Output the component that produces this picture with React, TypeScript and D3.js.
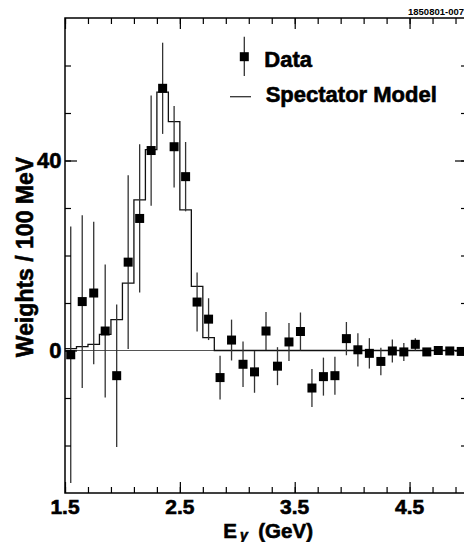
import { useEffect, useRef } from "react";
import * as d3 from "d3";

// bin centres (GeV), 0.1 GeV bins
const binCenters = [
  1.55, 1.65, 1.75, 1.85, 1.95, 2.05, 2.15, 2.25, 2.35, 2.45, 2.55, 2.65,
  2.75, 2.85, 2.95, 3.05, 3.15, 3.25, 3.35, 3.45, 3.55, 3.65, 3.75, 3.85,
  3.95, 4.05, 4.15, 4.25, 4.35, 4.45, 4.55, 4.65, 4.75, 4.85, 4.95,
];
const dataValues = [
  -0.9, 10.3, 12.1, 4.1, -5.3, 18.6, 27.8, 42.1, 55.2, 42.9, 36.6, 10.2,
  6.6, -5.7, 2.2, -2.9, -4.5, 4.1, -3.3, 1.8, 4.0, -7.9, -5.5, -5.3,
  2.5, 0.15, -0.6, -2.3, -0.1, -0.3, 1.3, -0.3, 0.0, -0.1, -0.2,
];
const dataErrors = [
  27, 18.2, 15, 14, 15, 18.3, 15.6, 11.6, 9.6, 8.6, 7.3, 6.2,
  4.4, 4.6, 4.3, 4.8, 4.4, 4.0, 4.0, 4.0, 4.0, 4.0, 4.0, 4.0,
  3.5, 3.5, 3.2, 2.9, 2.4, 1.9, 1.3, 0.8, 0.5, 0.4, 0.4,
];
const modelValues = [
  0.4, 0.8, 1.3, 3.4, 6.5, 14.2, 31.7, 42.3, 54.4, 48.2, 29.6, 13.5,
  2.7, 0, 0, 0, 0, 0, 0, 0, 0, 0, 0, 0,
  0, 0, 0, 0, 0, 0, 0, 0, 0, 0, 0,
];
const xTickLabels = [1.5, 2.5, 3.5, 4.5];
const xMinorTicks = d3.range(15, 51, 2).map((d) => d / 10);
const yTickLabels = [0, 40];
const yMinorTicks = [-20, -10, 0, 10, 20, 30, 40, 50, 60];

const FONT = "'Liberation Sans', Arial, Helvetica, sans-serif";
const binWidth = 0.1;

export default function App() {
  const ref = useRef<SVGSVGElement>(null);

  const width = 464;
  const height = 542;
  const left = 65, right = 467, top = 18, bottom = 493;

  const x = d3.scaleLinear().domain([1.5, 5.0]).range([left, right]);
  const y = d3.scaleLinear().domain([-30, 70]).range([bottom, top]);

  useEffect(() => {
    const svg = d3.select(ref.current);
    svg.selectAll("g.ax").remove();

    const addAxis = (axis: any, tx: number, ty: number) => {
      const g = svg.append("g").attr("class", "ax")
        .attr("transform", `translate(${tx},${ty})`)
        .call(axis);
      g.select(".domain").remove();
      g.selectAll("line").attr("stroke", "#000").attr("stroke-width", 1.2);
      g.selectAll("text").remove();
    };

    // bottom / top
    addAxis(d3.axisBottom(x).tickValues(xMinorTicks).tickSize(-6).tickFormat(() => ""), 0, bottom);
    addAxis(d3.axisBottom(x).tickValues(xTickLabels).tickSize(-11).tickFormat(() => ""), 0, bottom);
    addAxis(d3.axisTop(x).tickValues(xMinorTicks).tickSize(-6).tickFormat(() => ""), 0, top);
    addAxis(d3.axisTop(x).tickValues(xTickLabels).tickSize(-11).tickFormat(() => ""), 0, top);
    // left / right
    addAxis(d3.axisLeft(y).tickValues(yMinorTicks).tickSize(-6).tickFormat(() => ""), left, 0);
    addAxis(d3.axisLeft(y).tickValues(yTickLabels).tickSize(-12).tickFormat(() => ""), left, 0);
    addAxis(d3.axisRight(y).tickValues(yMinorTicks).tickSize(-6).tickFormat(() => ""), right, 0);
    addAxis(d3.axisRight(y).tickValues(yTickLabels).tickSize(-12).tickFormat(() => ""), right, 0);
  }, []);

  // step histogram for the model
  const stepPts: [number, number][] = [];
  binCenters.forEach((c, i) => {
    stepPts.push([c - binWidth / 2, modelValues[i]]);
    stepPts.push([c + binWidth / 2, modelValues[i]]);
  });
  const stepLine = d3.line<[number, number]>()
    .x((d) => x(d[0]))
    .y((d) => y(d[1]));

  const sq = 9;
  // slight outline to get the heavy look of the original bold labels
  const heavy = { stroke: "#000", strokeWidth: 0.6 };

  return (
    <svg
      ref={ref}
      width={width}
      height={height}
      style={{ position: "absolute", left: 0, top: 0, background: "#fff" }}
      fontFamily={FONT}
    >
      <rect x={0} y={0} width={width} height={height} fill="#fff" />

      {/* zero line */}
      <line x1={left} x2={right} y1={y(0)} y2={y(0)} stroke="#555" strokeWidth={1.2} />

      {/* model histogram */}
      <path d={stepLine(stepPts) || ""} fill="none" stroke="#111" strokeWidth={1.3} />

      {/* data error bars */}
      {binCenters.map((c, i) => (
        <line
          key={"e" + i}
          x1={x(c)}
          x2={x(c)}
          y1={y(dataValues[i] + dataErrors[i])}
          y2={y(dataValues[i] - dataErrors[i])}
          stroke="#333"
          strokeWidth={1.3}
        />
      ))}
      {/* data points */}
      {binCenters.map((c, i) => (
        <rect
          key={"p" + i}
          x={x(c) - sq / 2}
          y={y(dataValues[i]) - sq / 2}
          width={sq}
          height={sq}
          fill="#000"
        />
      ))}

      {/* frame */}
      <rect x={left} y={top} width={right - left} height={bottom - top} fill="none" stroke="#000" strokeWidth={1.5} />

      {/* x tick labels */}
      {xTickLabels.map((t) => (
        <text key={"xt" + t} x={x(t)} y={513.5} textAnchor="middle" fontSize={21} fontWeight="bold" {...heavy}>
          {t.toFixed(1)}
        </text>
      ))}
      {/* y tick labels */}
      {yTickLabels.map((t) => (
        <text key={"yt" + t} x={61.5} y={y(t) + 7.8} textAnchor="end" fontSize={22} fontWeight="bold" {...heavy}>
          {t}
        </text>
      ))}

      {/* axis titles */}
      <text x={223.3} y={537.5} fontSize={20.5} fontWeight="bold" {...heavy}>E</text>
      <text x={240} y={539.5} fontSize={14} fontWeight="bold" fontStyle="italic" {...heavy}>γ</text>
      <text x={258.3} y={537.5} fontSize={20.5} fontWeight="bold" {...heavy}>(GeV)</text>
      <text
        transform="translate(33,257) rotate(-90)"
        textAnchor="middle"
        fontSize={23}
        fontWeight="bold"
        {...heavy}
      >
        Weights / 100 MeV
      </text>

      {/* legend */}
      <line x1={244.3} x2={244.3} y1={36.7} y2={76} stroke="#333" strokeWidth={1.3} />
      <rect x={244.3 - sq / 2} y={56.7 - sq / 2} width={sq} height={sq} fill="#000" />
      <text x={264.3} y={66.7} fontSize={22} fontWeight="bold" {...heavy}>Data</text>
      <line x1={230} x2={251} y1={96.7} y2={96.7} stroke="#333" strokeWidth={1.3} />
      <text x={265.7} y={101.7} fontSize={22} fontWeight="bold" {...heavy}>Spectator Model</text>

      {/* figure id */}
      <text x={464} y={15} textAnchor="end" fontSize={9.5} fontWeight="bold">1850801-007</text>
    </svg>
  );
}
